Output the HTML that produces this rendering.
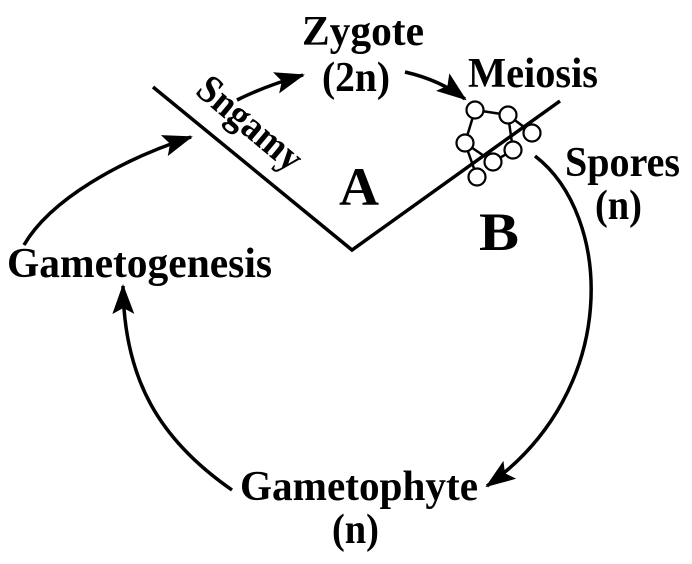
<!DOCTYPE html>
<html><head><meta charset="utf-8"><style>
html,body{margin:0;padding:0;background:#fff;}
svg{display:block;}
text{font-family:"Liberation Serif",serif;font-weight:bold;fill:#000;}
</style></head><body>
<svg width="692" height="564" viewBox="0 0 692 564" xmlns="http://www.w3.org/2000/svg">
<defs>
<marker id="a" viewBox="0 0 30 22" refX="28" refY="11" markerWidth="30" markerHeight="22" orient="auto" markerUnits="userSpaceOnUse">
<path d="M0,0 L30,11 L0,22 L6,11 Z" fill="#000"/>
</marker>
</defs>
<g stroke="#000" stroke-width="3.5" fill="none">
<polyline points="153,87 352,250 560,101"/>
<path d="M237,100 Q265,86 303,75" marker-end="url(#a)"/>
<path d="M405,72 Q440,80 465,99" marker-end="url(#a)"/>
<path d="M535,156 C612,215 622,390 487,486" marker-end="url(#a)"/>
<path d="M232,490 C160,440 124,380 123,286" marker-end="url(#a)"/>
<path d="M24,245 C50,200 120,160 191,137" marker-end="url(#a)"/>
</g>
<g stroke="#000" stroke-width="2.5" fill="none">
<polyline points="475,110 508,115 513,150 493,162 465,143 475,110"/>
<line x1="465" y1="143" x2="477" y2="177"/>
<line x1="508" y1="115" x2="532" y2="133"/>
</g>
<g stroke="#000" stroke-width="2.2" fill="#fff">
<circle cx="475" cy="110" r="8.5"/>
<circle cx="508" cy="115" r="8.5"/>
<circle cx="532" cy="133" r="8.5"/>
<circle cx="465" cy="143" r="8.5"/>
<circle cx="513" cy="150" r="8.5"/>
<circle cx="493" cy="162" r="8.5"/>
<circle cx="477" cy="177" r="8.5"/>
</g>
<text x="302" y="45" font-size="42" textLength="122" lengthAdjust="spacingAndGlyphs">Zygote</text>
<text x="322" y="91" font-size="42" textLength="68" lengthAdjust="spacingAndGlyphs">(2n)</text>
<text x="468" y="87" font-size="42" textLength="130" lengthAdjust="spacingAndGlyphs">Meiosis</text>
<text x="565" y="176" font-size="42" textLength="115" lengthAdjust="spacingAndGlyphs">Spores</text>
<text x="595" y="219" font-size="42" textLength="47" lengthAdjust="spacingAndGlyphs">(n)</text>
<text x="339" y="205" font-size="54" textLength="40" lengthAdjust="spacingAndGlyphs">A</text>
<text x="479" y="250" font-size="54" textLength="40" lengthAdjust="spacingAndGlyphs">B</text>
<text x="7" y="277" font-size="42" textLength="265" lengthAdjust="spacingAndGlyphs">Gametogenesis</text>
<text x="240" y="500" font-size="42" textLength="238" lengthAdjust="spacingAndGlyphs">Gametophyte</text>
<text x="332" y="543" font-size="42" textLength="47" lengthAdjust="spacingAndGlyphs">(n)</text>
<text transform="translate(194,93) rotate(40)" font-size="40" textLength="125" lengthAdjust="spacingAndGlyphs">Sngamy</text>
</svg>
</body></html>
